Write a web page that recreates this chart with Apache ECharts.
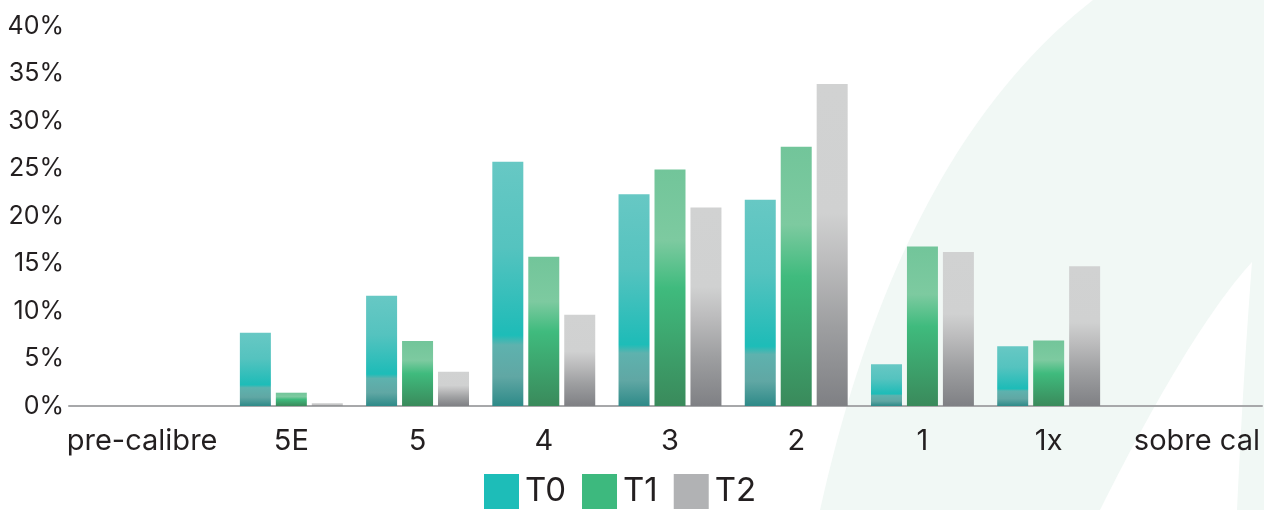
<!DOCTYPE html>
<html>
<head>
<meta charset="utf-8">
<script src="https://cdn.jsdelivr.net/npm/echarts@6/dist/echarts.min.js"></script>
<style>
html,body{margin:0;padding:0;background:#fff;}
#c{width:1264px;height:510px;}
</style>
</head>
<body>
<div id="c"></div>
<script>
const categories = ['pre-calibre', '5E', '5', '4', '3', '2', '1', '1x', 'sobre cal'];
const seriesNames = ['T0', 'T1', 'T2'];
const t0Values = [null, 7.7, 11.6, 25.7, 22.3, 21.7, 4.4, 6.3, null];
const t1Values = [null, 1.4, 6.85, 15.7, 24.9, 27.3, 16.8, 6.9, null];
const t2Values = [null, 0.3, 3.6, 9.6, 20.9, 33.9, 16.2, 14.7, null];
const yTicks = { min: 0, max: 40, interval: 5 };

const chart = echarts.init(document.getElementById('c'), null, { renderer: 'canvas' });
const FONT = 'Inter';
const grad = (stops) => ({
  type: 'linear', x: 0, y: 0, x2: 0, y2: 1,
  colorStops: stops.map(s => ({ offset: s[0], color: s[1] }))
});

const fills = [
  grad([[0, '#67c8c4'], [0.35, '#55c3bf'], [0.68, '#22bcb8'], [0.71, '#1dbdb8'], [0.75, '#5eb2ae'], [0.88, '#60a7a4'], [1, '#2e8a88']]),
  grad([[0, '#72c59a'], [0.3, '#7dcaa0'], [0.5, '#40bb7e'], [0.52, '#3fb97c'], [1, '#3a8a5b']]),
  grad([[0, '#d1d2d2'], [0.4, '#d0d1d1'], [0.55, '#bcbcbd'], [0.75, '#9e9fa1'], [1, '#7f8084']])
];
const legendColors = ['#1dbdb8', '#3db97e', '#b1b2b4'];
const valueSets = [t0Values, t1Values, t2Values];

// decorative background leaf shape (quadratic curves sampled into a polygon)
function quad(p0, c, p1, n) {
  const pts = [];
  for (let k = 0; k <= n; k++) {
    const t = k / n, u = 1 - t;
    pts.push([u * u * p0[0] + 2 * u * t * c[0] + t * t * p1[0], u * u * p0[1] + 2 * u * t * c[1] + t * t * p1[1]]);
  }
  return pts;
}
const leafPts = [].concat(
  quad([1093, 0], [900, 150], [820, 510], 40),
  quad([1100, 510], [1190, 330], [1252, 262], 30),
  quad([1252, 262], [1243, 380], [1237, 510], 20),
  [[1264, 510], [1264, 0]]
);

const xData = categories.map((c, i) => {
  if (i === 0) return { value: c, textStyle: { padding: [0, 46, 0, 0] } };
  if (i === categories.length - 1) return { value: c, textStyle: { padding: [0, 0, 0, 44] } };
  return c;
});

chart.setOption({
  backgroundColor: '#ffffff',
  animation: false,
  textStyle: { fontFamily: FONT },
  graphic: [{
    type: 'polygon',
    z: -10,
    silent: true,
    shape: { points: leafPts },
    style: { fill: '#f1f8f5' }
  }],
  legend: {
    data: seriesNames.map((n, i) => ({ name: n, itemStyle: { color: legendColors[i] } })),
    left: 484,
    bottom: 1,
    padding: 0,
    icon: 'rect',
    itemWidth: 35,
    itemHeight: 35,
    itemGap: 16,
    textStyle: { fontFamily: FONT, fontSize: 33, color: '#231f20', padding: [0, 0, 0, 1] }
  },
  grid: [
    { left: 102, right: 26, top: 26, bottom: 104, containLabel: false },
    { left: 69, right: 2, top: 26, bottom: 104, containLabel: false }
  ],
  xAxis: [{
    type: 'category',
    gridIndex: 0,
    data: xData,
    axisLine: { show: false },
    axisTick: { show: false },
    axisLabel: { fontFamily: FONT, fontSize: 29, color: '#231f20', margin: 21, interval: 0 }
  }, {
    type: 'value',
    gridIndex: 1,
    min: 0, max: 1,
    axisLine: { show: true, lineStyle: { color: '#a7a8aa', width: 2 } },
    axisTick: { show: false },
    axisLabel: { show: false },
    splitLine: { show: false }
  }],
  yAxis: [{
    type: 'value',
    gridIndex: 0,
    min: yTicks.min, max: yTicks.max, interval: yTicks.interval,
    axisLine: { show: false },
    axisTick: { show: false },
    splitLine: { show: false },
    axisLabel: { formatter: '{value}%', fontFamily: FONT, fontSize: 25, color: '#231f20', margin: 38 }
  }, {
    type: 'value',
    gridIndex: 1,
    show: false,
    min: 0, max: 1
  }],
  series: seriesNames.map((n, i) => ({
    name: n,
    type: 'bar',
    xAxisIndex: 0,
    yAxisIndex: 0,
    data: valueSets[i],
    barWidth: 31,
    barGap: '16%',
    itemStyle: { color: fills[i] },
    z: 5
  }))
});
</script>
</body>
</html>
